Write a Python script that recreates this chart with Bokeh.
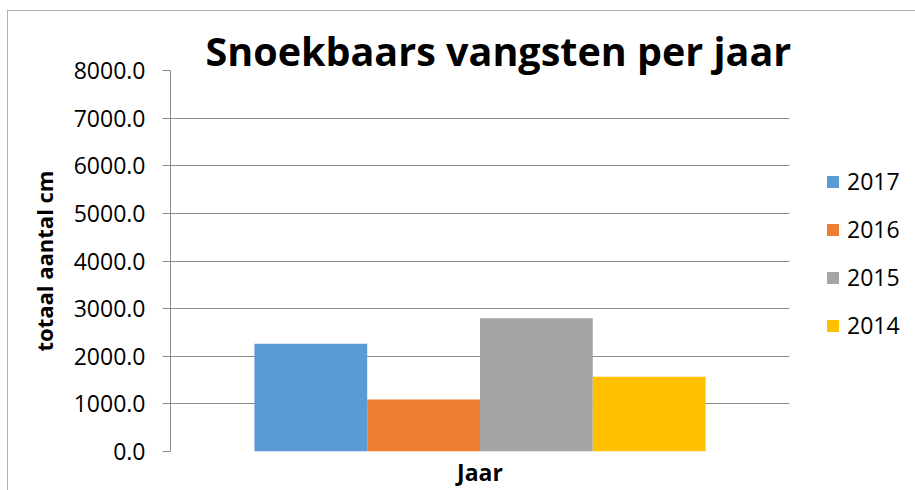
from bokeh.plotting import figure
from bokeh.layouts import row
from bokeh.models import (FactorRange, Range1d, Legend, LegendItem, Title,
                          FixedTicker, NumeralTickFormatter, ColumnDataSource)
from bokeh.embed import file_html
from bokeh.resources import INLINE

# ---- data ----
years = ["2017", "2016", "2015", "2014"]
values = [2260, 1090, 2800, 1570]
colors = ["#5B9BD5", "#ED7D31", "#A5A5A5", "#FFC000"]
y_ticks = [0, 1000, 2000, 3000, 4000, 5000, 6000, 7000, 8000]
title_text = "Snoekbaars vangsten per jaar"
y_label = "totaal aantal cm"
x_label = "Jaar"

FONT = "Open Sans"
GRID = "#8c8c8c"
EDGE = "#b4b4b4"
H = 490
W1, W2 = 800, 115

src = ColumnDataSource(dict(years=years, values=values, colors=colors))

# ---------- main chart ----------
p = figure(width=W1, height=H,
           x_range=FactorRange(factors=years, range_padding=0.372),
           y_range=Range1d(0, 8000),
           output_backend="svg", toolbar_location=None,
           min_border_left=170, min_border_right=W1 - 789,
           min_border_top=70, min_border_bottom=H - 453)
p.outline_line_color = None
p.background_fill_color = "white"
p.border_fill_color = None

p.title = Title(text=title_text, align="left", offset=35, standoff=-15,
                text_font=FONT, text_font_size="39.5px", text_font_style="bold",
                text_color="black")

r = p.vbar(x="years", top="values", width=1.0, fill_color="colors",
           line_color=None, source=src)

# grid
p.xgrid.visible = False
p.ygrid.grid_line_color = GRID
p.ygrid.grid_line_width = 1
p.ygrid.ticker = FixedTicker(ticks=y_ticks)

# x axis: only the title "Jaar" (category labels are not shown)
xa = p.xaxis[0]
xa.axis_line_color = None
xa.major_tick_line_color = None
xa.minor_tick_line_color = None
xa.major_tick_in = 0
xa.major_tick_out = 0
xa.major_label_text_color = None
xa.major_label_text_font_size = "0px"
xa.major_label_standoff = 0
xa.axis_label = x_label
xa.axis_label_text_font = FONT
xa.axis_label_text_font_size = "23px"
xa.axis_label_text_font_style = "bold"
xa.axis_label_text_color = "black"
xa.axis_label_standoff = 4

# y axis
ya = p.yaxis[0]
ya.ticker = FixedTicker(ticks=y_ticks)
ya.formatter = NumeralTickFormatter(format="0.0")
ya.axis_line_color = GRID
ya.major_tick_line_color = GRID
ya.major_tick_in = 0
ya.major_tick_out = 8
ya.minor_tick_line_color = None
ya.major_label_standoff = 17
ya.major_label_text_font = FONT
ya.major_label_text_font_size = "23px"
ya.major_label_text_color = "black"
ya.axis_label = y_label
ya.axis_label_text_font = FONT
ya.axis_label_text_font_size = "22px"
ya.axis_label_text_font_style = "bold"
ya.axis_label_text_color = "black"
ya.axis_label_standoff = 12

# ---------- legend panel ----------
p2 = figure(width=W2, height=H,
            x_range=FactorRange(factors=years), y_range=Range1d(-20000, -10000),
            x_axis_location=None, y_axis_location=None,
            output_backend="svg", toolbar_location=None, min_border=0)
p2.outline_line_color = None
p2.background_fill_color = None
p2.border_fill_color = None
p2.grid.visible = False
# legend-only renderer (zero width, outside the visible range)
r2 = p2.vbar(x="years", top="values", width=0, fill_color="colors",
             line_color=None, source=src)

items = [LegendItem(label=years[i], renderers=[r2], index=i) for i in range(len(years))]
legend = Legend(items=items, location=(25, 110), orientation="vertical",
                glyph_width=15, glyph_height=15, label_height=32,
                label_standoff=7, spacing=16, padding=0, margin=0,
                border_line_color=None, background_fill_alpha=0,
                label_text_font=FONT, label_text_font_size="23px",
                label_text_color="black")
p2.add_layout(legend, "center")

layout = row(p, p2)
layout.styles = {
    "background": f"linear-gradient({EDGE},{EDGE}) 7px 10px / 1px 100% no-repeat, "
                  f"linear-gradient({EDGE},{EDGE}) 7px 10px / 100% 1px no-repeat, white"
}
open("out.html", "w").write(file_html(layout, INLINE))
